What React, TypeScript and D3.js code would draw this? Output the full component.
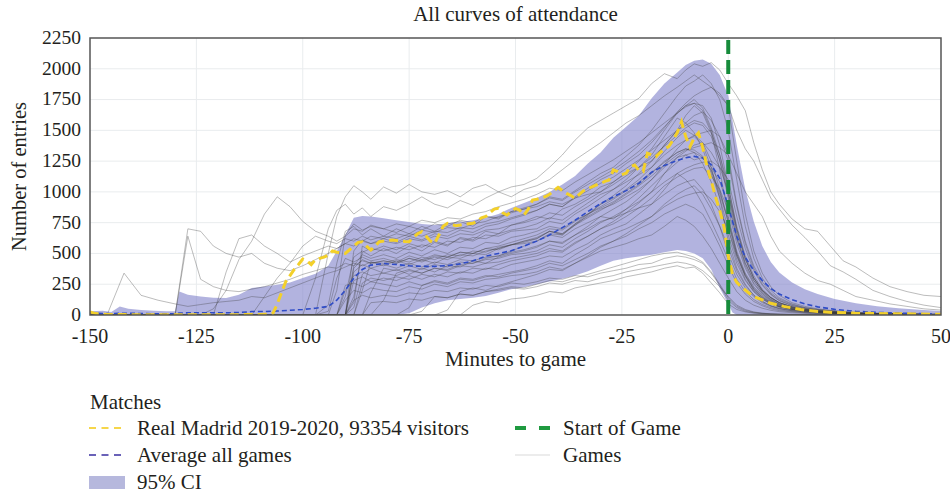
import React from "react";
import * as d3 from "d3";

const TITLE = "All curves of attendance";
const X_LABEL = "Minutes to game";
const Y_LABEL = "Number of entries";
const X_TICKS = [-150, -125, -100, -75, -50, -25, 0, 25, 50];
const Y_TICKS = [0, 250, 500, 750, 1000, 1250, 1500, 1750, 2000, 2250];

// Grid of minutes used by every single game curve
const MINUTES = [-150,-146,-142,-138,-134,-130,-127,-124,-121,-118,-115,-112,-109,-106,-103,-100,-97,-94,
  -92,-90,-88,-86,-84,
  -81,-78,-75,-72,-69,-66,-63,-60,-57,-54,-51,-48,
  -45,-42,-39,-36,-33,-30,-27,-24,-21,-18,-15,-12,
  -10,-8,-6,-4,-2,0,
  2,4,6,8,10,12,
  15,18,21,24,27,30,34,38,42,46,50];

const games: number[][] = [
  [0,0,0,0,0,0,0,0,0,0,0,0,0,0,0,0,0,0, 0,150,470,520,480,
   540,500,560,520,590,560,630,610,680,660,730,760, 800,780,860,900,960,1040,1080,1150,1200,1250,1380,1500,
   1620,1700,1640,1480,1180,800, 520,340,230,160,110,80, 55,40,30,22,16,12,9,7,5,4,3],
  [0,0,0,0,0,0,0,0,0,0,0,0,0,0,0,0,0,0, 0,0,60,330,380,
   340,370,330,380,350,400,390,440,420,470,500,520, 550,600,580,650,720,800,780,860,920,1000,1150,1240,
   1300,1260,1280,1200,1080,900, 620,420,280,190,130,90, 60,45,32,24,18,13,10,8,6,5,4],
  [0,0,0,0,0,0,0,0,0,0,0,0,0,0,0,0,0,80, 420,680,720,650,700,
   640,700,660,720,680,740,760,720,800,780,840,870, 900,960,940,1010,1080,1150,1200,1290,1380,1500,1640,1780,
   1860,1900,1950,1880,1750,1500, 1100,720,460,300,200,140, 90,60,45,35,26,20,15,11,8,6,5],
  [0,0,0,0,0,0,0,0,0,0,0,0,0,0,0,0,0,0, 0,0,280,310,270,
   300,280,320,290,330,310,350,340,380,370,410,430, 450,480,470,530,580,650,700,740,820,900,980,1050,
   1080,1100,1020,900,720,500, 330,220,150,100,70,50, 35,25,18,13,10,8,6,5,4,3,2],
  [0,0,0,0,0,0,0,0,0,0,0,0,0,0,0,0,0,0, 0,0,0,200,430,
   400,440,410,450,420,470,460,500,490,540,570,590, 620,680,650,740,820,900,950,1020,1100,1200,1300,1380,
   1420,1460,1480,1500,1450,1300, 900,600,400,270,180,130, 85,60,44,32,24,18,13,10,8,6,5],
  [0,0,0,0,0,0,0,0,0,0,0,0,0,0,0,0,0,0, 0,240,260,230,270,
   250,230,270,240,280,260,300,290,320,310,340,360, 380,420,400,450,500,560,600,640,700,750,820,870,
   900,870,820,700,560,400, 260,170,110,75,50,35, 25,18,13,10,8,6,4,3,2,2,1],
  [0,0,0,0,0,0,0,0,0,0,0,0,0,0,0,0,0,0, 0,0,100,560,520,
   560,530,580,550,600,570,620,600,650,640,680,690, 700,760,740,820,880,950,1020,1100,1200,1300,1450,1600,
   1560,1480,1350,1150,950,700, 450,290,190,130,90,65, 45,32,24,18,13,10,7,5,4,3,2],
  [0,0,0,0,0,0,0,0,0,0,0,0,0,0,0,0,0,0, 0,0,0,0,180,
   380,360,400,370,410,390,430,420,450,460,490,500, 520,570,550,620,680,750,800,860,950,1050,1150,1280,
   1330,1380,1400,1320,1200,1000, 700,460,300,200,140,100, 65,46,34,25,19,14,10,8,6,5,4],
  [0,0,0,0,0,0,0,0,0,0,0,0,0,0,0,0,0,0, 0,120,200,180,220,
   200,190,230,210,250,230,270,260,290,300,320,330, 350,390,370,420,470,520,550,580,620,650,720,800,
   770,720,640,540,420,300, 190,120,80,55,38,27, 18,13,10,7,5,4,3,2,2,1,1],
  [0,0,0,0,0,0,0,0,0,0,0,0,0,0,0,0,0,0, 0,0,520,610,580,
   620,590,640,610,660,640,690,670,720,740,780,810, 850,900,880,960,1030,1100,1150,1230,1300,1400,1520,1650,
   1720,1780,1820,1850,1800,1700, 1250,820,520,340,230,160, 100,70,50,38,28,21,15,11,8,6,5],
  [0,0,0,0,0,0,0,0,0,0,0,0,0,0,0,0,0,30, 300,460,430,470,440,
   460,430,480,450,490,470,510,500,540,530,570,580, 600,650,630,700,750,800,860,920,1000,1100,1220,1350,
   1420,1450,1380,1200,950,600, 380,250,160,110,75,55, 38,27,20,15,11,8,6,5,4,3,2],
  [0,0,0,0,0,0,0,0,0,0,0,0,0,0,0,0,0,0, 0,0,0,0,0,
   120,340,370,340,380,360,400,390,420,430,460,480, 500,540,520,590,640,700,740,800,870,950,1050,1120,
   1160,1190,1200,1130,1020,850, 580,380,250,170,115,80, 52,37,27,20,15,11,8,6,5,4,3],
  [0,0,0,0,0,0,0,0,0,0,0,0,0,0,0,0,0,0, 0,0,0,0,0,
   0,0,60,240,270,250,290,280,310,330,350,370, 400,440,420,490,550,620,660,700,750,800,900,980,
   1020,1050,980,860,720,550, 360,240,160,110,75,52, 35,25,18,13,10,7,5,4,3,2,2],
  [0,0,0,0,0,0,0,0,0,0,0,0,0,0,0,0,0,0, 0,0,400,490,460,
   490,460,510,480,530,500,550,540,590,580,630,650, 680,720,700,770,820,870,920,990,1060,1150,1250,1320,
   1350,1320,1230,1080,880,650, 420,280,190,130,90,65, 44,32,24,18,13,10,7,5,4,3,2],
  [0,0,0,0,0,0,0,0,0,0,0,0,0,0,0,0,0,0, 0,0,0,260,300,
   280,310,290,330,310,350,340,380,370,410,440,460, 480,520,510,580,640,700,760,830,910,1000,1080,1150,
   1190,1220,1240,1250,1200,1100, 800,540,360,240,165,115, 75,53,39,29,22,16,12,9,7,5,4],
  [0,0,0,0,0,0,0,0,0,0,0,0,0,0,0,0,0,0, 200,650,740,690,720,
   700,670,720,690,740,720,770,750,800,790,840,860, 880,920,900,950,980,1000,1080,1160,1250,1350,1500,1640,
   1700,1750,1680,1520,1300,1000, 680,450,300,200,140,100, 65,46,34,25,19,14,10,8,6,5,4],
  [0,0,0,0,0,0,0,0,0,0,0,0,0,0,0,0,0,0, 0,0,0,0,0,
   0,0,0,0,0,40,190,220,200,240,270,300, 330,370,360,420,480,550,600,660,730,800,880,940,
   970,990,1000,940,840,700, 480,320,210,145,100,70, 46,33,24,18,13,10,7,5,4,3,2],
  [0,0,0,0,0,0,0,0,0,0,0,0,0,0,0,0,0,0, 0,0,350,410,380,
   410,380,420,390,430,410,450,440,470,480,510,530, 560,600,590,650,700,760,790,830,870,900,1020,1150,
   1100,1020,900,760,610,450, 290,190,125,85,60,42, 28,20,15,11,8,6,4,3,2,2,1],
  [0,0,0,0,0,0,0,0,0,0,0,0,0,0,0,0,0,0, 0,200,320,350,320,
   340,320,360,340,380,370,410,420,460,480,520,560, 600,660,650,730,810,900,970,1050,1150,1250,1380,1500,
   1560,1620,1650,1580,1450,1250, 880,580,380,250,170,120, 78,55,40,30,22,17,12,9,7,5,4],
  [0,0,0,0,0,0,0,0,0,0,0,0,0,0,0,0,0,0, 0,0,150,510,540,
   520,550,530,570,550,600,590,630,620,660,690,710, 740,790,770,840,910,980,1020,1080,1140,1200,1330,1440,
   1500,1460,1400,1250,1020,750, 480,310,200,135,95,68, 46,33,24,18,13,10,7,5,4,3,2],
  [0,0,0,0,0,0,0,0,0,0,0,0,0,0,0,0,0,0, 0,0,380,450,420,
   440,420,460,430,470,450,490,480,520,540,570,600, 630,680,660,730,790,850,910,980,1050,1130,1220,1300,
   1340,1360,1380,1400,1360,1300, 1150,1000,900,800,640,520, 420,340,280,250,200,150,120,90,70,50,40],
  [0,0,0,0,0,0,0,0,0,0,0,0,0,0,0,0,0,0, 0,0,120,160,140,
   160,150,180,170,200,190,220,210,240,230,260,250, 270,300,290,320,310,340,360,380,410,420,460,480,
   470,450,420,340,240,120, 60,30,18,12,8,6, 4,3,2,2,1,1,1,0,0,0,0],
  [0,0,0,0,0,0,0,0,0,0,0,0,0,0,0,0,0,0, 0,0,0,0,100,
   110,100,130,120,150,140,170,160,190,200,220,210, 230,260,250,280,270,300,320,350,370,390,410,430,
   420,400,360,300,230,150, 80,45,25,15,10,7, 5,3,2,2,1,1,1,0,0,0,0],
  [0,0,0,0,0,0,0,0,0,0,0,0,0,0,0,0,0,0, 0,0,0,0,0,
   0,0,0,0,0,0,0,80,110,100,130,140, 160,190,180,220,240,260,280,310,330,350,380,400,
   380,390,340,260,180,90, 45,25,15,10,6,4, 3,2,1,1,1,0,0,0,0,0,0],
  [0,0,0,0,0,0,0,0,0,0,0,0,0,0,0,0,0,0, 0,0,0,0,0,
   0,0,0,30,150,140,170,160,190,210,230,220, 250,280,270,300,330,360,390,420,450,480,500,510,
   490,470,430,350,250,140, 70,38,22,14,9,6, 4,3,2,1,1,1,0,0,0,0,0],
  [20,0,340,160,120,90,70,85,100,110,120,150,140,180,220,260,300,340, 360,390,420,400,430,
   420,450,430,470,450,490,480,520,510,550,570,600, 620,680,660,740,800,860,900,960,1020,1100,1200,1280,
   1300,1320,1280,1180,1000,780, 500,320,210,140,100,70, 48,34,25,18,13,10,7,5,4,3,2],
  [0,0,0,0,0,0,700,680,560,500,470,500,420,380,360,400,450,500, 540,580,620,600,640,
   620,660,640,690,670,710,700,740,760,800,830,860, 900,950,930,1000,1060,1120,1180,1250,1330,1420,1530,1640,
   1700,1720,1660,1500,1250,950, 620,400,260,175,120,85, 56,40,29,21,16,12,9,7,5,4,3],
  [0,0,0,0,0,0,640,290,230,200,190,210,230,260,290,330,360,390, 380,420,400,440,420,
   440,420,460,440,480,470,510,500,540,560,590,620, 650,700,690,760,820,880,940,1010,1080,1160,1240,1320,
   1350,1340,1290,1170,980,760, 500,330,220,150,105,75, 50,36,26,19,14,11,8,6,4,3,2],
  [0,0,0,0,0,0,0,0,50,200,450,600,820,960,880,760,680,640, 600,640,700,680,730,
   700,740,720,770,750,790,780,820,840,880,910,940, 980,1030,1010,1080,1140,1200,1260,1330,1400,1480,1560,1640,
   1690,1720,1700,1600,1380,1050, 700,460,300,200,140,100, 66,47,34,25,19,14,10,8,6,5,4],
  [0,0,0,0,0,0,0,0,0,350,620,650,560,500,430,480,520,560, 540,580,560,600,580,
   600,580,620,600,640,620,660,650,690,700,730,750, 780,830,810,880,940,1000,1060,1130,1200,1280,1370,1460,
   1520,1560,1540,1450,1260,980, 650,420,280,185,125,90, 58,41,30,22,16,12,9,7,5,4,3],
  [0,0,0,0,0,0,0,0,0,0,0,0,0,0,0,0,0,500, 800,960,1050,1000,940,
   1040,990,1060,1000,980,1010,960,1030,1060,1000,1040,1060, 1110,1200,1300,1420,1520,1580,1640,1700,1760,1880,1960,1920,
   1990,2040,2020,2050,1990,1880, 1780,1660,1400,1180,1000,900, 780,700,680,560,440,390,300,230,190,160,150],
  [0,0,0,0,0,0,0,0,0,0,0,0,0,0,0,0,300,700, 850,900,820,870,800,
   880,850,900,960,900,870,930,890,950,1000,960,1020, 1050,1100,1180,1260,1330,1400,1480,1560,1620,1700,1780,1850,
   1900,1950,1900,1850,1780,1700, 1500,1350,1250,1100,950,860, 730,630,520,400,350,290,200,150,110,80,60],
  [0,0,0,0,0,0,0,0,0,0,0,0,150,300,420,560,640,600, 580,620,600,640,610,
   640,620,660,640,680,670,710,700,740,760,790,820, 850,900,880,950,1010,1070,1120,1190,1260,1340,1420,1500,
   1540,1580,1560,1480,1300,1050, 720,480,320,210,145,100, 66,47,34,25,19,14,10,8,6,5,4],
];

// Confidence band and average, on their own minute grid
const CI_MINUTES = [-150,-147,-145,-143,-141,-138,-135,-132,-130,-129,
  -127,-124,-121,-118,-115,-112,-109,-106,-103,-100,
  -97,-94,-92,-90,-88,-86,-84,-81,-78,-75,
  -72,-69,-66,-63,-60,-57,-54,-51,-48,-45,
  -42,-39,-36,-33,-30,-27,-24,-21,-18,-15,
  -12,-10,-8,-6,-4,-2,0,1,2,3,
  4,6,8,10,12,15,18,21,25,30,
  35,40,45,50];
const CI_UPPER = [30,35,25,70,50,40,35,30,30,190,
  165,150,140,138,165,220,232,245,265,300,
  335,400,520,650,790,805,800,785,770,755,
  740,732,745,755,770,790,820,870,910,950,
  1000,1060,1130,1230,1320,1440,1530,1620,1760,1880,
  1970,2030,2065,2075,2040,1950,1780,1580,1380,1200,
  1020,760,560,430,345,265,210,170,130,95,
  72,55,42,32];
const CI_LOWER = [0,0,0,0,0,0,0,0,0,0,
  0,0,0,0,0,0,0,0,0,0,
  0,0,0,0,0,0,0,0,0,15,
  60,95,120,130,140,155,180,210,225,250,
  272,295,320,355,400,440,460,475,490,510,
  528,520,500,460,370,220,90,20,0,0,
  0,0,0,0,0,0,0,0,0,0,
  0,0,0,0];
const AVERAGE = [15,12,10,15,14,12,10,10,10,15,
  18,18,18,18,20,28,28,32,38,45,
  55,70,120,200,300,370,405,418,410,400,
  395,395,402,415,440,478,500,522,560,600,
  650,710,770,840,905,960,1010,1070,1160,1215,
  1255,1278,1288,1275,1220,1110,880,760,640,550,
  470,360,280,215,170,125,90,66,46,30,
  21,15,11,8];

// Real Madrid 2019-2020 curve: [minute, entries]
const realMadrid: [number, number][] = [
  [-150,25],[-149,15],[-148,8],[-146,5],[-143,4],[-140,3],[-135,3],[-130,2],[-125,2],[-120,2],[-115,3],[-110,4],[-108,6],
  [-107,14],[-106,90],[-105,180],[-104,270],[-103,320],[-102,370],[-101,410],[-100,455],[-99,440],[-98,410],[-97,450],
  [-96,460],[-95,470],[-94,485],[-93,520],[-92,510],[-91,505],[-90,500],[-89,530],[-88,560],[-87,590],[-86,595],[-85,560],
  [-84,528],[-83,560],[-82,595],[-81,600],[-80,605],[-79,609],[-78,605],[-77,600],[-76,597],[-75,595],[-74,630],[-73,660],
  [-72,677],[-71,640],[-70,600],[-69,582],[-68,650],[-67,720],[-66,745],[-65,735],[-64,725],[-63,731],[-62,738],[-61,742],
  [-60,745],[-59,760],[-58,790],[-57,800],[-56,830],[-55,860],[-54,866],[-53,830],[-52,812],[-51,840],[-50,866],[-49,850],
  [-48,812],[-47,860],[-46,934],[-45,940],[-44,950],[-43,961],[-42,980],[-41,1010],[-40,1037],[-39,1010],[-38,988],[-37,970],
  [-36,948],[-35,980],[-34,1010],[-33,1029],[-32,1040],[-31,1056],[-30,1070],[-29,1085],[-28,1097],[-27,1178],[-26,1165],
  [-25,1140],[-24,1151],[-23,1205],[-22,1218],[-21,1175],[-20,1164],[-19,1313],[-18,1300],[-17,1286],[-16,1320],[-15,1350],
  [-14,1367],[-13,1420],[-12,1480],[-11,1570],[-10,1450],[-9,1367],[-8,1440],[-7,1480],[-6,1360],[-5,1205],[-4,1090],
  [-3,960],[-2,850],[-1,717],[0,480],[1,330],[2,265],[3,230],[4,203],[5,175],[6,150],[8,122],[10,95],[13,70],[17,45],
  [21,28],[25,20],[30,15],[35,12],[40,10],[45,8],[50,6],
];

const START_OF_GAME = 0;

const LEGEND_TITLE = "Matches";
const LEGEND_RM = "Real Madrid 2019-2020, 93354 visitors";
const LEGEND_AVG = "Average all games";
const LEGEND_CI = "95% CI";
const LEGEND_START = "Start of Game";
const LEGEND_GAMES = "Games";

const FONT = "'Liberation Serif', 'DejaVu Serif', serif";

export default function App() {
  const left = 90, right = 941, top = 38, bottom = 315;
  const x = d3.scaleLinear().domain([-150, 50]).range([left, right]);
  const y = d3.scaleLinear().domain([0, 2250]).range([bottom, top]);

  const gameLine = d3.line<number>().x((_, i) => x(MINUTES[i])).y((d) => y(d));
  const band = d3.area<number>().x((_, i) => x(CI_MINUTES[i])).y0((_, i) => y(CI_LOWER[i])).y1((d) => y(d));
  const avgLine = d3.line<number>().x((_, i) => x(CI_MINUTES[i])).y((d) => y(d));
  const rmLine = d3.line<[number, number]>().x((d) => x(d[0])).y((d) => y(d[1]));

  const textColor = "#231f20";
  const labelSize = 21;

  return (
    <svg width={950} height={494} style={{ position: "absolute", left: 0, top: 0, background: "#fff" }} fontFamily={FONT}>
      <defs>
        <clipPath id="plot">
          <rect x={left} y={top} width={right - left} height={bottom - top} />
        </clipPath>
      </defs>
      <rect x={0} y={0} width={950} height={494} fill="#fff" />
      <text x={(left + right) / 2} y={21} textAnchor="middle" fontSize={labelSize} fill={textColor}>{TITLE}</text>

      {X_TICKS.slice(1, -1).map((t) => (
        <line key={"gx" + t} x1={x(t)} x2={x(t)} y1={top} y2={bottom} stroke="#e9ecee" strokeWidth={1} />
      ))}
      {Y_TICKS.slice(1, -1).map((t) => (
        <line key={"gy" + t} x1={left} x2={right} y1={y(t)} y2={y(t)} stroke="#e9ecee" strokeWidth={1} />
      ))}

      <g clipPath="url(#plot)">
        <path d={band(CI_UPPER) || ""} fill="#8285cc" fillOpacity={0.62} stroke="none" />
        {games.map((g, i) => (
          <path key={i} d={gameLine(g) || ""} fill="none" stroke="#3a3a3a" strokeOpacity={0.34} strokeWidth={1} />
        ))}
        <path d={avgLine(AVERAGE) || ""} fill="none" stroke="#2f4cc6" strokeWidth={1.6} strokeDasharray="5,3" />
        <path d={rmLine(realMadrid) || ""} fill="none" stroke="#f3d02a" strokeWidth={3} strokeDasharray="9,5" />
        <line x1={x(START_OF_GAME)} x2={x(START_OF_GAME)} y1={top + 2} y2={bottom} stroke="#168b3b" strokeWidth={4} strokeDasharray="14,6" />
      </g>
      <rect x={left} y={top} width={right - left} height={bottom - top} fill="none" stroke="#555" strokeWidth={1.5} />

      {Y_TICKS.map((t) => (
        <text key={"ty" + t} x={81} y={y(t)} dy="0.3em" textAnchor="end" fontSize={19.5} fill={textColor}>{t}</text>
      ))}
      {X_TICKS.map((t) => (
        <text key={"tx" + t} x={x(t)} y={343} textAnchor="middle" fontSize={20} fill={textColor}>{t}</text>
      ))}
      <text x={(left + right) / 2} y={366} textAnchor="middle" fontSize={labelSize} fill={textColor}>{X_LABEL}</text>
      <text transform={`translate(26,${(top + bottom) / 2}) rotate(-90)`} textAnchor="middle" fontSize={20.5} fill={textColor}>{Y_LABEL}</text>

      <text x={90} y={409} fontSize={labelSize} fill={textColor}>{LEGEND_TITLE}</text>
      <line x1={89} x2={125} y1={428} y2={428} stroke="#f6d64a" strokeWidth={2} strokeDasharray="7,5.5" />
      <text x={137} y={435} fontSize={labelSize} fill={textColor}>{LEGEND_RM}</text>
      <line x1={89} x2={125} y1={455} y2={455} stroke="#6a62b8" strokeWidth={2} strokeDasharray="7,5.5" />
      <text x={137} y={462} fontSize={labelSize} fill={textColor}>{LEGEND_AVG}</text>
      <rect x={89} y={476} width={36} height={13} fill="#b6b8dd" />
      <text x={137} y={489} fontSize={labelSize} fill={textColor}>{LEGEND_CI}</text>
      <line x1={515} x2={550} y1={428} y2={428} stroke="#1f9a40" strokeWidth={4} strokeDasharray="11,13" />
      <text x={563} y={435} fontSize={labelSize} fill={textColor}>{LEGEND_START}</text>
      <line x1={515} x2={550} y1={455} y2={455} stroke="#dadada" strokeWidth={1.2} />
      <text x={563} y={462} fontSize={labelSize} fill={textColor}>{LEGEND_GAMES}</text>
    </svg>
  );
}
